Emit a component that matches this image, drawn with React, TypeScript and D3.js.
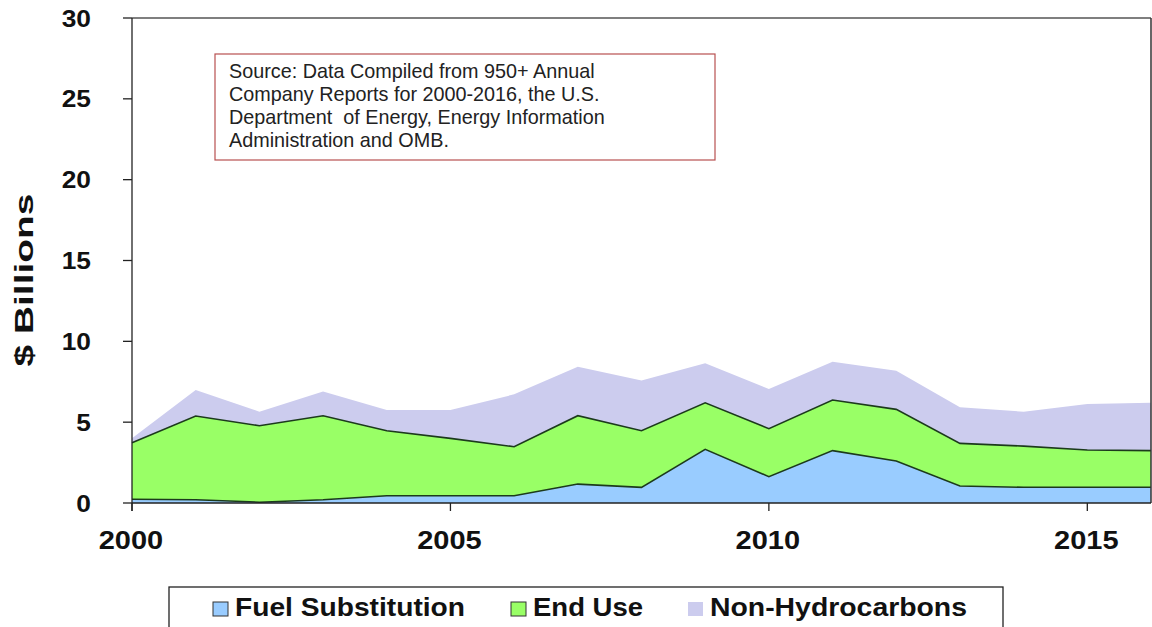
import React from "react";
import * as d3 from "d3";

const years = [2000, 2001, 2002, 2003, 2004, 2005, 2006, 2007, 2008, 2009, 2010, 2011, 2012, 2013, 2014, 2015, 2016];
const fuelSubstitution = [0.23, 0.2, 0.05, 0.2, 0.45, 0.45, 0.45, 1.17, 0.97, 3.32, 1.63, 3.24, 2.6, 1.05, 0.97, 0.97, 0.97];
const endUse = [3.5, 5.18, 4.73, 5.2, 4.02, 3.55, 3.03, 4.23, 3.5, 2.88, 2.97, 3.13, 3.19, 2.64, 2.55, 2.31, 2.27];
const nonHydrocarbons = [0.27, 1.61, 0.87, 1.5, 1.28, 1.75, 3.24, 3.03, 3.1, 2.44, 2.45, 2.37, 2.39, 2.23, 2.13, 2.84, 2.96];

const seriesKeys = ["Fuel Substitution", "End Use", "Non-Hydrocarbons"];
const seriesColors = ["#99ccff", "#99ff66", "#ccccee"];
const yTicks = [0, 5, 10, 15, 20, 25, 30];
const xTicks = [2000, 2005, 2010, 2015];
const sourceLines = [
  "Source: Data Compiled from 950+ Annual",
  "Company Reports for 2000-2016, the U.S.",
  "Department  of Energy, Energy Information",
  "Administration and OMB.",
];

const W = 1152;
const H = 627;
const FONT = "'Liberation Sans', Arial, Helvetica, sans-serif";

export default function App() {
  const x = d3.scaleLinear().domain([2000, 2016]).range([132, 1151]);
  const y = d3.scaleLinear().domain([0, 30]).range([503, 18]);

  const table = years.map((yr, i) => ({
    year: yr,
    "Fuel Substitution": fuelSubstitution[i],
    "End Use": endUse[i],
    "Non-Hydrocarbons": nonHydrocarbons[i],
  }));
  const stacked = d3.stack<any>().keys(seriesKeys)(table);

  const area = d3
    .area<any>()
    .x((d) => x(d.data.year))
    .y0((d) => y(d[0]))
    .y1((d) => y(d[1]));
  const topLine = d3
    .line<any>()
    .x((d) => x(d.data.year))
    .y((d) => y(d[1]));

  const legendItems = [
    { label: seriesKeys[0], color: seriesColors[0], sx: 213, tx: 235, tw: 230, border: true },
    { label: seriesKeys[1], color: seriesColors[1], sx: 511, tx: 533, tw: 110, border: true },
    { label: seriesKeys[2], color: seriesColors[2], sx: 688, tx: 710, tw: 257, border: false },
  ];

  return (
    <svg
      width={W}
      height={H}
      style={{ position: "absolute", left: 0, top: 0, background: "#fff" }}
      fontFamily={FONT}
    >
      <rect x={0} y={0} width={W} height={H} fill="#fff" />
      {stacked.map((s, i) => (
        <path key={s.key} d={area(s) || ""} fill={seriesColors[i]} stroke="none" />
      ))}
      {stacked.slice(0, 2).map((s) => (
        <path key={"l" + s.key} d={topLine(s) || ""} fill="none" stroke="#1c3a1c" strokeWidth={1.6} />
      ))}

      <line x1={132} x2={1151} y1={18} y2={18} stroke="#555" strokeWidth={1.5} />
      <line x1={1151} x2={1151} y1={18} y2={503} stroke="#333" strokeWidth={1.5} />

      <line x1={132} x2={132} y1={18} y2={511} stroke="#222" strokeWidth={1.3} />
      {yTicks.map((t) => (
        <g key={"yt" + t}>
          <line x1={123} x2={132} y1={y(t)} y2={y(t)} stroke="#222" strokeWidth={1.3} />
          <text
            transform={`translate(91,${y(t) + 8.5}) scale(1.12,1)`}
            textAnchor="end"
            fontSize={23.5}
            fontWeight="bold"
            fill="#111"
          >
            {t}
          </text>
        </g>
      ))}

      <line x1={132} x2={1151} y1={503} y2={503} stroke="#222" strokeWidth={1.5} />
      {xTicks.map((t) => (
        <g key={"xt" + t}>
          <line x1={x(t)} x2={x(t)} y1={503} y2={511} stroke="#222" strokeWidth={1.3} />
          <text
            transform={`translate(${x(t) - 1},${549}) scale(1.16,1)`}
            textAnchor="middle"
            fontSize={25}
            fontWeight="bold"
            fill="#111"
          >
            {t}
          </text>
        </g>
      ))}

      <text
        transform="translate(33,280) rotate(-90)"
        textAnchor="middle"
        fontSize={26}
        fontWeight="bold"
        fill="#111"
        textLength={173}
        lengthAdjust="spacingAndGlyphs"
      >
        $ Billions
      </text>

      <rect x={215} y={54} width={500} height={106} fill="#fff" stroke="#b85050" strokeWidth={1.2} />
      {sourceLines.map((ln, i) => (
        <text key={"src" + i} x={229} y={78 + i * 23} fontSize={19.8} fill="#222" style={{ whiteSpace: "pre" }}>
          {ln}
        </text>
      ))}

      <rect x={169} y={587} width={834} height={60} fill="#fff" stroke="#222" strokeWidth={1.3} />
      {legendItems.map((it) => (
        <g key={"lg" + it.label}>
          <rect
            x={it.sx}
            y={602}
            width={15}
            height={14}
            fill={it.color}
            stroke={it.border ? "#333" : "none"}
            strokeWidth={1}
          />
          <text
            x={it.tx}
            y={616}
            fontSize={26}
            fontWeight="bold"
            fill="#111"
            textLength={it.tw}
            lengthAdjust="spacingAndGlyphs"
          >
            {it.label}
          </text>
        </g>
      ))}
    </svg>
  );
}
